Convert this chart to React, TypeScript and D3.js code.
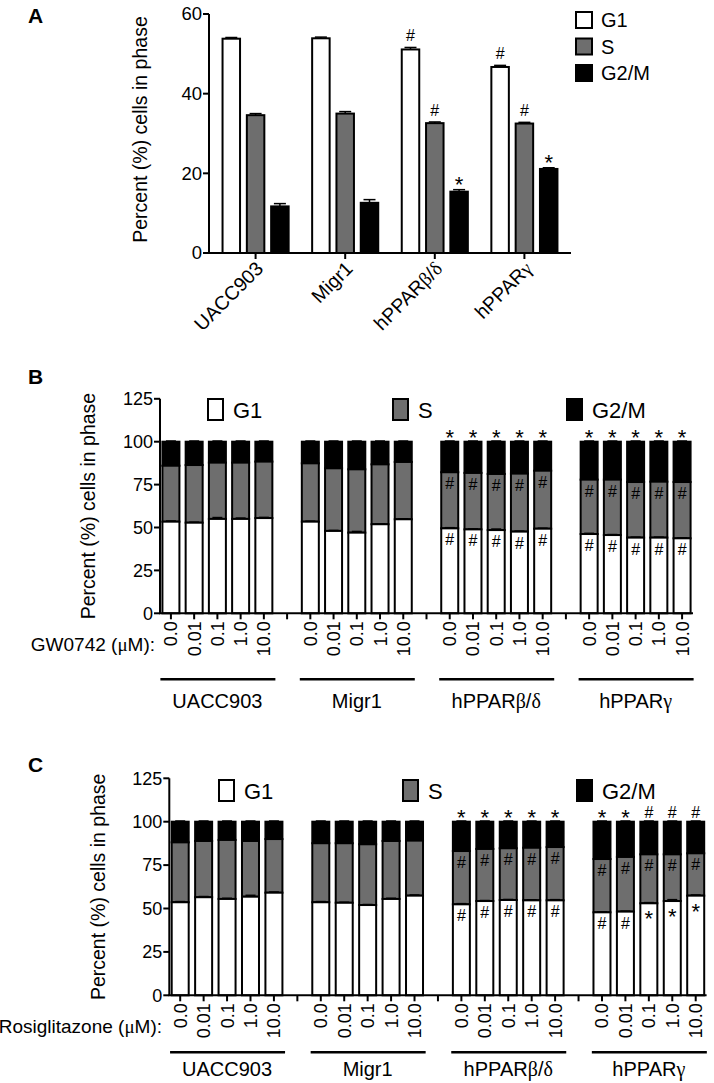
import React from "react";
import * as d3 from "d3";

const FONT = "Arial, 'Liberation Sans', Helvetica, sans-serif";
const GREEK = "'Times New Roman', 'Liberation Serif', serif";
const GRAY = "#6e6e6e";

// ---------- Panel A data ----------
const groups = ["UACC903", "Migr1", "hPPARβ/δ", "hPPARγ"];
const phases = ["G1", "S", "G2/M"];
const phaseFill = ["#ffffff", GRAY, "#000000"];
const aG1 = [53.8, 53.9, 51.1, 46.7];
const aS = [34.6, 35.0, 32.6, 32.5];
const aG2M = [11.7, 12.6, 15.4, 21.1];
const aG1Err = [0.3, 0.3, 0.5, 0.4];
const aSErr = [0.4, 0.5, 0.3, 0.3];
const aG2MErr = [0.7, 0.8, 0.5, 0.3];
const aG1Marks = ["", "", "#", "#"];
const aSMarks = ["", "", "#", "#"];
const aG2MMarks = ["", "", "*", "*"];
const aTicks = [0, 20, 40, 60];

// ---------- Panels B / C shared ----------
const doses = ["0.0", "0.01", "0.1", "1.0", "10.0"];
const stackTicks = [0, 25, 50, 75, 100, 125];

// ---------- Panel B data (GW0742) ----------
const bG1 = [53.4, 52.8, 55.0, 55.0, 55.5, 53.4, 48.0, 47.0, 51.9, 54.8, 49.5, 48.9, 48.5, 47.6, 49.3, 46.2, 45.6, 44.1, 44.1, 43.7];
const bS = [32.6, 33.6, 32.8, 32.8, 32.9, 34.0, 36.5, 36.9, 34.9, 33.4, 32.7, 32.9, 32.7, 33.8, 33.8, 31.7, 32.3, 32.4, 32.6, 32.8];
const bG2M = [14.0, 13.6, 12.2, 12.2, 11.6, 12.6, 15.5, 16.1, 13.2, 11.8, 17.8, 18.2, 18.8, 18.6, 16.9, 22.1, 22.1, 23.5, 23.3, 23.5];
const bG1Err = [0.4, 0.3, 0.8, 0.5, 0.4, 0.3, 0.3, 0.7, 0.3, 0.3, 0.4, 0.3, 0.6, 0.3, 0.3, 0.4, 0.3, 0.3, 0.3, 0.3];
const bSErr = [0.3, 0.3, 0.3, 0.3, 0.3, 0.3, 0.3, 0.3, 0.3, 0.3, 0.3, 0.3, 0.3, 0.3, 0.3, 0.3, 0.3, 0.3, 0.3, 0.3];
const bTopMarks = ["", "", "", "", "", "", "", "", "", "", "*", "*", "*", "*", "*", "*", "*", "*", "*", "*"];
const bSMarks = ["", "", "", "", "", "", "", "", "", "", "#", "#", "#", "#", "#", "#", "#", "#", "#", "#"];
const bG1Marks = ["", "", "", "", "", "", "", "", "", "", "#", "#", "#", "#", "#", "#", "#", "#", "#", "#"];

// ---------- Panel C data (Rosiglitazone) ----------
const cG1 = [53.6, 56.5, 55.5, 56.8, 59.1, 53.6, 53.3, 52.0, 55.5, 57.4, 52.4, 54.3, 54.9, 54.7, 54.7, 47.8, 48.2, 53.0, 54.3, 57.4];
const cS = [34.5, 32.4, 34.0, 32.1, 30.9, 34.0, 34.3, 35.0, 33.4, 31.7, 30.7, 30.0, 29.8, 30.3, 30.7, 30.7, 31.5, 28.2, 26.9, 24.4];
const cG2M = [11.9, 11.1, 10.5, 11.1, 10.0, 12.4, 12.4, 13.0, 11.1, 10.9, 16.9, 15.7, 15.3, 15.0, 14.6, 21.5, 20.3, 18.8, 18.8, 18.2];
const cG1Err = [0.4, 0.4, 0.4, 0.8, 0.4, 0.4, 0.3, 0.3, 0.4, 0.4, 0.4, 0.3, 0.3, 0.3, 0.4, 0.3, 0.3, 0.4, 0.8, 0.4];
const cSErr = [0.3, 0.3, 0.3, 0.3, 0.3, 0.3, 0.3, 0.3, 0.3, 0.3, 0.3, 0.3, 0.3, 0.3, 0.3, 0.3, 0.3, 0.3, 0.3, 0.3];
const cTopMarks = ["", "", "", "", "", "", "", "", "", "", "*", "*", "*", "*", "*", "*", "*", "#", "#", "#"];
const cSMarks = ["", "", "", "", "", "", "", "", "", "", "#", "#", "#", "#", "#", "#", "#", "#", "#", "#"];
const cG1Marks = ["", "", "", "", "", "", "", "", "", "", "#", "#", "#", "#", "#", "#", "#", "*", "*", "*"];

function Mixed({ text }: { text: string }) {
  const parts: { s: string; g: boolean }[] = [];
  for (const ch of text) {
    const g = /[α-ωμ]/.test(ch);
    const last = parts[parts.length - 1];
    if (last && last.g === g) last.s += ch;
    else parts.push({ s: ch, g });
  }
  return (
    <>
      {parts.map((p, i) => (
        <tspan key={i} fontFamily={p.g ? GREEK : undefined}>{p.s}</tspan>
      ))}
    </>
  );
}

function PanelA() {
  const y = d3.scaleLinear().domain([0, 60]).range([253, 14]);
  const x = d3.scalePoint<string>().domain(groups).range([209, 571]).padding(0.52);
  const xp = d3.scaleBand<string>().domain(phases).range([-33.05, 33.05]).paddingInner(0.28);
  const bw = xp.bandwidth();
  const vals = [aG1, aS, aG2M];
  const errs = [aG1Err, aSErr, aG2MErr];
  const marks = [aG1Marks, aSMarks, aG2MMarks];
  return (
    <g>
      <text x={28} y={23} fontSize={21} fontWeight="bold">A</text>
      <text transform={`translate(140,${(y(0) + y(60)) / 2 - 4}) rotate(-90)`} textAnchor="middle" dy="0.35em" fontSize={19.5}>
        Percent (%) cells in phase
      </text>
      {groups.map((g, gi) =>
        phases.map((p, pi) => {
          const v = vals[pi][gi];
          const bx = (x(g) as number) + (xp(p) as number);
          const cx = bx + bw / 2;
          const top = y(v);
          const etop = y(v + errs[pi][gi]);
          const m = marks[pi][gi];
          return (
            <g key={g + p}>
              <line x1={cx} x2={cx} y1={top} y2={etop} stroke="#000" strokeWidth={1.5} />
              <line x1={cx - 6} x2={cx + 6} y1={etop} y2={etop} stroke="#000" strokeWidth={1.5} />
              <rect x={bx} y={top} width={bw} height={y(0) - top} fill={phaseFill[pi]} stroke="#000" strokeWidth={2} />
              {m === "#" && <text x={cx} y={etop - 6} textAnchor="middle" fontSize={16}>#</text>}
              {m === "*" && <text x={cx} y={etop + 2} textAnchor="middle" fontSize={22}>*</text>}
            </g>
          );
        })
      )}
      <line x1={209} x2={209} y1={y(0)} y2={y(60)} stroke="#000" strokeWidth={2} />
      <line x1={208} x2={571} y1={y(0)} y2={y(0)} stroke="#000" strokeWidth={2} />
      {aTicks.map((t) => (
        <g key={t}>
          <line x1={203} x2={209} y1={y(t)} y2={y(t)} stroke="#000" strokeWidth={2} />
          <text x={202} y={y(t)} dy="0.35em" textAnchor="end" fontSize={18.5}>{t}</text>
        </g>
      ))}
      {groups.map((g) => (
        <g key={g}>
          <line x1={x(g)} x2={x(g)} y1={y(0)} y2={y(0) + 6} stroke="#000" strokeWidth={2} />
          <text transform={`translate(${(x(g) as number) + 4},${y(0) + 12}) rotate(-45)`} textAnchor="end" dy="0.35em" fontSize={19.5}>
            <Mixed text={g} />
          </text>
        </g>
      ))}
      {phases.map((p, pi) => (
        <g key={p} transform={`translate(576,${12 + pi * 26.5})`}>
          <rect x={0} y={0} width={16} height={16} fill={phaseFill[pi]} stroke="#000" strokeWidth={2} />
          <text x={25} y={8} dy="0.35em" fontSize={20}>{p}</text>
        </g>
      ))}
    </g>
  );
}

type StackCfg = {
  letter: string;
  letterY: number;
  y0: number;
  y125: number;
  x0: number;
  x1: number;
  pad: number;
  g1: number[];
  s: number[];
  g2m: number[];
  g1Err: number[];
  sErr: number[];
  topMarks: string[];
  sMarks: string[];
  g1Marks: string[];
  drug: string;
  drugX: number;
  ylabelX: number;
  legendX: number[];
  legendY: number;
  underlineDy: number;
  groupDy: number;
};

function StackPanel({ c }: { c: StackCfg }) {
  const y = d3.scaleLinear().domain([0, 125]).range([c.y0, c.y125]);
  const slots: string[] = [];
  groups.forEach((g, gi) => {
    doses.forEach((d, di) => slots.push(`${gi}-${di}`));
    if (gi < groups.length - 1) slots.push(`${gi}-gap`);
  });
  const x = d3.scalePoint<string>().domain(slots).range([c.x0, c.x1]).padding(c.pad);
  const bw = 17;
  const bars: JSX.Element[] = [];
  groups.forEach((g, gi) =>
    doses.forEach((d, di) => {
      const i = gi * doses.length + di;
      const cx = x(`${gi}-${di}`) as number;
      const bx = cx - bw / 2;
      const t1 = y(c.g1[i]);
      const t2 = y(c.g1[i] + c.s[i]);
      const t3 = y(c.g1[i] + c.s[i] + c.g2m[i]);
      const e1 = y(c.g1[i] + c.g1Err[i]);
      const e2 = y(c.g1[i] + c.s[i] + c.sErr[i]);
      const e3 = y(c.g1[i] + c.s[i] + c.g2m[i] + 0.4);
      bars.push(
        <g key={i}>
          <rect x={bx} y={t3} width={bw} height={t2 - t3} fill="#000" stroke="#000" strokeWidth={2} />
          <rect x={bx} y={t2} width={bw} height={t1 - t2} fill={GRAY} stroke="#000" strokeWidth={2} />
          <rect x={bx} y={t1} width={bw} height={c.y0 - t1} fill="#fff" stroke="#000" strokeWidth={2} />
          {[[t1, e1], [t2, e2], [t3, e3]].map(([a, b], k) => (
            <g key={k}>
              <line x1={cx} x2={cx} y1={a} y2={b} stroke="#000" strokeWidth={1.5} />
              <line x1={cx - 5} x2={cx + 5} y1={b} y2={b} stroke="#000" strokeWidth={1.5} />
            </g>
          ))}
          {c.topMarks[i] === "*" && <text x={cx} y={t3 + 3} textAnchor="middle" fontSize={22}>*</text>}
          {c.topMarks[i] === "#" && <text x={cx} y={t3 - 4} textAnchor="middle" fontSize={16}>#</text>}
          {c.sMarks[i] === "#" && <text x={cx} y={t2 + 17} textAnchor="middle" fontSize={16}>#</text>}
          {c.g1Marks[i] === "#" && <text x={cx} y={t1 + 17} textAnchor="middle" fontSize={16}>#</text>}
          {c.g1Marks[i] === "*" && <text x={cx} y={t1 + 23} textAnchor="middle" fontSize={22}>*</text>}
        </g>
      );
    })
  );
  return (
    <g>
      <text x={28} y={c.letterY} fontSize={21} fontWeight="bold">{c.letter}</text>
      <text transform={`translate(${c.ylabelX},${(c.y0 + c.y125) / 2}) rotate(-90)`} textAnchor="middle" dy="0.35em" fontSize={19.5}>
        Percent (%) cells in phase
      </text>
      {bars}
      <line x1={c.x0} x2={c.x0} y1={c.y0} y2={c.y125} stroke="#000" strokeWidth={2} />
      <line x1={c.x0 - 1} x2={c.x1} y1={c.y0} y2={c.y0} stroke="#000" strokeWidth={2} />
      {stackTicks.map((t) => (
        <g key={t}>
          <line x1={c.x0 - 6} x2={c.x0} y1={y(t)} y2={y(t)} stroke="#000" strokeWidth={2} />
          <text x={c.x0 - 7} y={y(t)} dy="0.35em" textAnchor="end" fontSize={18}>{t}</text>
        </g>
      ))}
      {slots.map((s) => (
        <line key={s} x1={x(s)} x2={x(s)} y1={c.y0} y2={c.y0 + 6} stroke="#000" strokeWidth={2} />
      ))}
      {groups.map((g, gi) =>
        doses.map((d, di) => (
          <text key={`${gi}-${di}`} transform={`translate(${x(`${gi}-${di}`)},${c.y0 + 8}) rotate(-90)`} textAnchor="end" dy="0.36em" fontSize={18}>
            {d}
          </text>
        ))
      )}
      <text x={c.drugX} y={c.y0 + 31} dy="0.35em" textAnchor="end" fontSize={19}>
        <Mixed text={c.drug} />
      </text>
      {groups.map((g, gi) => {
        const gc = x(`${gi}-2`) as number;
        return (
          <g key={g}>
            <line x1={gc - 57} x2={gc + 58} y1={c.y0 + c.underlineDy} y2={c.y0 + c.underlineDy} stroke="#000" strokeWidth={2.5} />
            <text x={gc} y={c.y0 + c.groupDy} textAnchor="middle" fontSize={20}>
              <Mixed text={g} />
            </text>
          </g>
        );
      })}
      {phases.map((p, pi) => (
        <g key={p} transform={`translate(${c.legendX[pi]},${c.legendY})`}>
          <rect x={0} y={0} width={15} height={21} fill={phaseFill[pi]} stroke="#000" strokeWidth={2} />
          <text x={25} y={11} dy="0.35em" fontSize={22}>{p}</text>
        </g>
      ))}
    </g>
  );
}

const cfgB: StackCfg = {
  letter: "B", letterY: 384, y0: 613.3, y125: 398.8, x0: 160, x1: 693, pad: 0.47,
  g1: bG1, s: bS, g2m: bG2M, g1Err: bG1Err, sErr: bSErr,
  topMarks: bTopMarks, sMarks: bSMarks, g1Marks: bG1Marks,
  drug: "GW0742 (μM):", drugX: 155, ylabelX: 88,
  legendX: [208, 393, 567], legendY: 399, underlineDy: 66, groupDy: 95,
};

const cfgC: StackCfg = {
  letter: "C", letterY: 772, y0: 995.3, y125: 778.3, x0: 169.3, x1: 706.6, pad: 0.465,
  g1: cG1, s: cS, g2m: cG2M, g1Err: cG1Err, sErr: cSErr,
  topMarks: cTopMarks, sMarks: cSMarks, g1Marks: cG1Marks,
  drug: "Rosiglitazone (μM):", drugX: 162, ylabelX: 98,
  legendX: [219, 403, 577], legendY: 780, underlineDy: 57, groupDy: 81,
};

export default function App() {
  return (
    <svg
      width={714}
      height={1083}
      viewBox="0 0 714 1083"
      style={{ position: "absolute", left: 0, top: 0, background: "#fff" }}
      fontFamily={FONT}
      fill="#000"
    >
      <rect x={0} y={0} width={714} height={1083} fill="#fff" />
      <PanelA />
      <StackPanel c={cfgB} />
      <StackPanel c={cfgC} />
    </svg>
  );
}
